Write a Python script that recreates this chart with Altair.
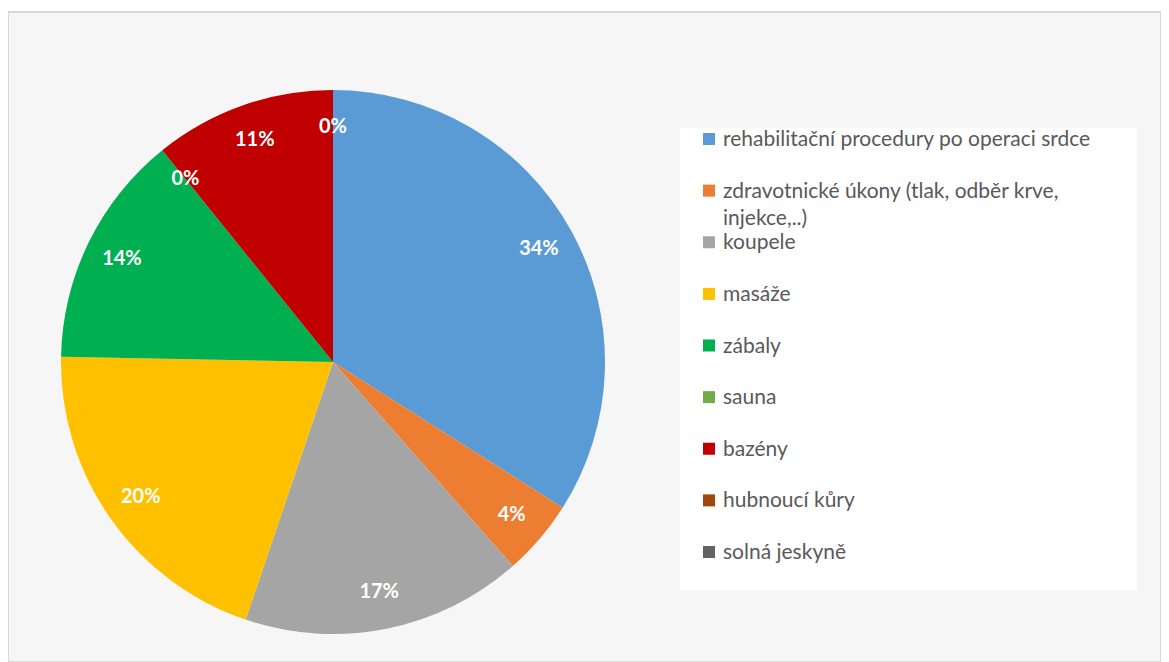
import altair as alt
import pandas as pd

categories = [
    "rehabilitační procedury po operaci srdce",
    "zdravotnické úkony (tlak, odběr krve, injekce,..)",
    "koupele",
    "masáže",
    "zábaly",
    "sauna",
    "bazény",
    "hubnoucí kůry",
    "solná jeskyně",
]
legend_labels = [
    "rehabilitační procedury po operaci srdce",
    "zdravotnické úkony (tlak, odběr krve,\ninjekce,..)",
    "koupele",
    "masáže",
    "zábaly",
    "sauna",
    "bazény",
    "hubnoucí kůry",
    "solná jeskyně",
]
values = [34.0, 4.5, 16.7, 20.1, 13.9, 0.0, 10.8, 0.0, 0.0]
pct_labels = ["34%", "4%", "17%", "20%", "14%", "0%", "11%", "0%", ""]
colors = ["#5B9BD5", "#ED7D31", "#A5A5A5", "#FFC000", "#00B050",
          "#70AD47", "#C00000", "#9E480E", "#636363"]

df = pd.DataFrame({
    "cat": categories,
    "legend": legend_labels,
    "value": values,
    "label": pct_labels,
    "idx": list(range(len(categories))),
})

color_scale = alt.Scale(domain=categories, range=colors)
CX, CY, R = 325, 350, 272

base = alt.Chart(df)

pie = base.mark_arc(outerRadius=R, strokeWidth=0).encode(
    theta=alt.Theta("value:Q", stack=True),
    color=alt.Color("cat:N", scale=color_scale, legend=None, sort=None),
    order=alt.Order("idx:Q"),
    x=alt.value(CX),
    y=alt.value(CY),
)

pie_text = base.mark_text(
    radius=235, color="white", font="Lato", fontWeight="bold", fontSize=20,
    align="center", baseline="middle",
).encode(
    theta=alt.Theta("value:Q", stack=True),
    detail="cat:N",
    order=alt.Order("idx:Q"),
    text="label:N",
    x=alt.value(CX),
    y=alt.value(CY),
)

legend_box = alt.Chart(pd.DataFrame({"k": [0]})).mark_rect(
    color="white"
).encode(
    x=alt.value(672), x2=alt.value(1129), y=alt.value(116), y2=alt.value(578)
)

ly = alt.Y("cat:N", sort=categories, axis=None,
           scale=alt.Scale(type="point", domain=categories, range=[127, 540], padding=0))

leg_sym = base.mark_square(size=144, opacity=1).encode(
    x=alt.value(701),
    y=ly,
    color=alt.Color("cat:N", scale=color_scale, legend=None, sort=None),
)

leg_text = base.mark_text(
    align="left", baseline="alphabetic", dy=7, font="Lato", fontSize=21,
    color="#595959", lineBreak="\n", lineHeight=27,
).encode(
    x=alt.value(715),
    y=ly,
    text="legend:N",
)

chart = alt.layer(pie, pie_text, legend_box, leg_sym, leg_text).resolve_scale(
    y="independent"
).properties(
    width=1153, height=650,
    padding={"left": 0, "top": 4, "right": 0, "bottom": 0},
    autosize=alt.AutoSizeParams(type="none"),
).configure(background="white").configure_view(
    fill="#f6f6f6", stroke="#d9d9d9", strokeWidth=2
)

chart.save("out.html", embed_options={"renderer": "svg", "actions": False})
